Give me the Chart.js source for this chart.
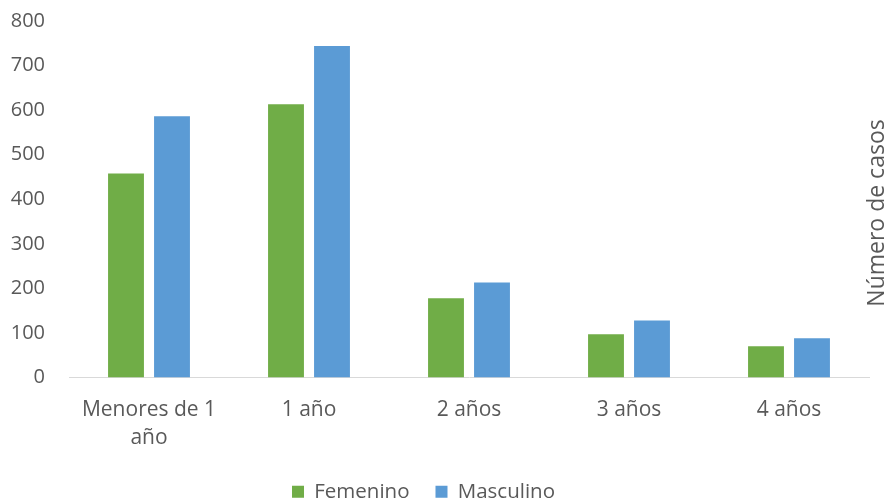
<!DOCTYPE html>
<html>
<head>
<meta charset="utf-8">
<script src="https://cdn.jsdelivr.net/npm/chart.js@4"></script>
<style>
    html, body { margin: 0; padding: 0; background: #ffffff; }
    #wrap { width: 885px; height: 502px; }
</style>
</head>
<body>
<div id="wrap"><canvas id="casosChart" width="885" height="502"></canvas></div>
<script>
// Datos
const categorias = [["Menores de 1", "año"], "1 año", "2 años", "3 años", "4 años"];
const femenino = [458, 613, 178, 97, 70];
const masculino = [586, 744, 213, 128, 88];
const tituloEjeY = "Número de casos";

const fuente = "'Open Sans', sans-serif";
const gris = "#595959";

// Título del eje Y a la derecha, leído de abajo hacia arriba
const tituloDerecha = {
    id: "tituloDerecha",
    afterLayout(chart) {
        // la leyenda del original está algo desplazada a la izquierda
        chart.legend.left -= 11;
        chart.legend.right -= 11;
    },
    afterDraw(chart) {
        const ctx = chart.ctx;
        ctx.save();
        ctx.translate(884, 213);
        ctx.rotate(-Math.PI / 2);
        ctx.font = "23px " + fuente;
        ctx.fillStyle = gris;
        ctx.textAlign = "center";
        ctx.textBaseline = "alphabetic";
        ctx.fillText(tituloEjeY, 0, 0);
        ctx.restore();
    }
};

const ctx = document.getElementById("casosChart").getContext("2d");
new Chart(ctx, {
    type: "bar",
    data: {
        labels: categorias,
        datasets: [
            {
                label: "Femenino",
                data: femenino,
                backgroundColor: "#70AD47",
                barPercentage: 0.78,
                categoryPercentage: 0.575
            },
            {
                label: "Masculino",
                data: masculino,
                backgroundColor: "#5B9BD5",
                barPercentage: 0.78,
                categoryPercentage: 0.575
            }
        ]
    },
    options: {
        responsive: false,
        animation: false,
        layout: { padding: { top: 21, right: 16, left: 0, bottom: -10 } },
        scales: {
            x: {
                grid: { display: false, drawTicks: false },
                border: { display: true, color: "#d9d9d9", width: 1 },
                ticks: {
                    color: gris,
                    font: { family: fuente, size: 21, lineHeight: 1.33 },
                    padding: 19,
                    maxRotation: 0,
                    autoSkip: false
                },
                afterFit(scale) { scale.height = 78; }
            },
            y: {
                min: 0,
                max: 800,
                grid: { display: false, drawTicks: false },
                border: { display: false },
                ticks: {
                    stepSize: 100,
                    color: gris,
                    font: { family: fuente, size: 20 },
                    padding: 24
                },
                afterFit(scale) {
                    scale.width = 69;
                    scale.paddingTop = 0;
                    scale.paddingBottom = 0;
                }
            }
        },
        plugins: {
            legend: {
                position: "bottom",
                labels: {
                    color: gris,
                    font: { family: fuente, size: 20.5 },
                    boxWidth: 12,
                    boxHeight: 12,
                    padding: 26
                }
            },
            tooltip: { enabled: false }
        }
    },
    plugins: [tituloDerecha]
});
</script>
</body>
</html>
